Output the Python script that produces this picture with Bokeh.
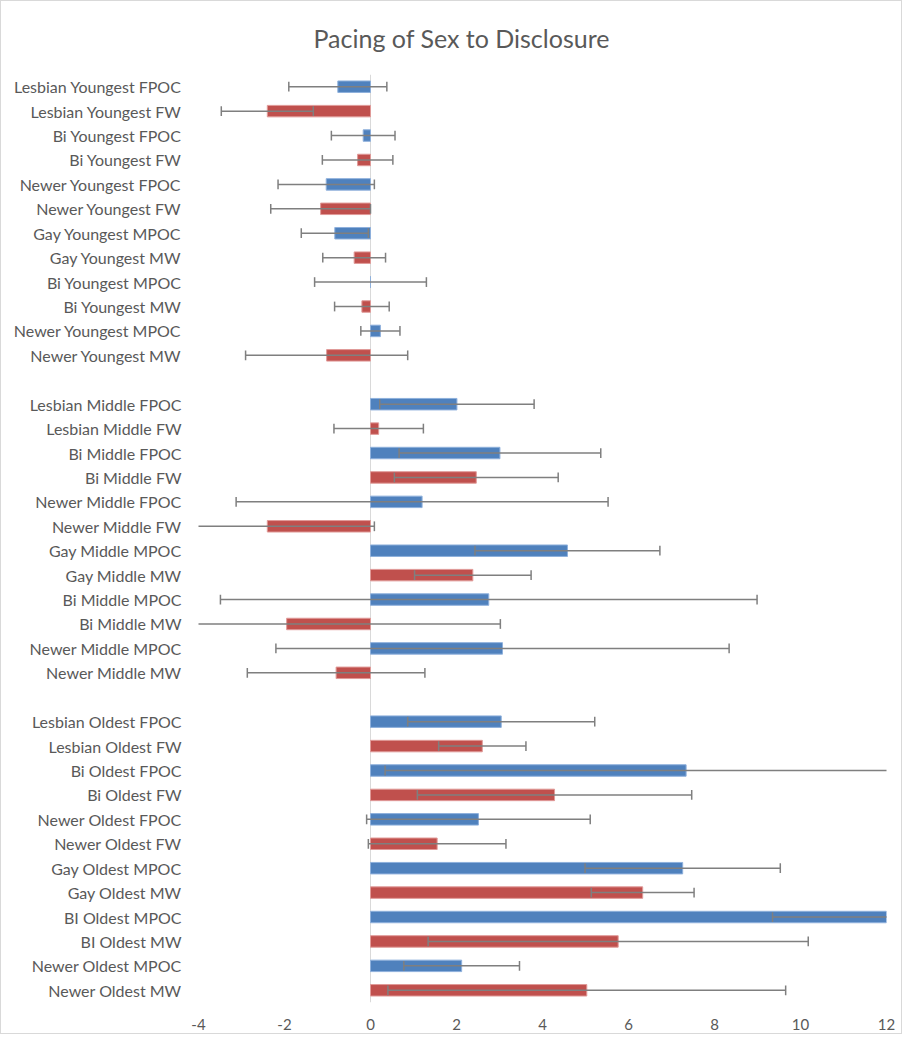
from bokeh.plotting import figure
from bokeh.models import Range1d, FixedTicker, Span, ColumnDataSource
from bokeh.embed import file_html
from bokeh.resources import INLINE

# ---- data ----
youngest_labels = ["Lesbian Youngest FPOC", "Lesbian Youngest FW", "Bi Youngest FPOC", "Bi Youngest FW",
                   "Newer Youngest FPOC", "Newer Youngest FW", "Gay Youngest MPOC", "Gay Youngest MW",
                   "Bi Youngest MPOC", "Bi Youngest MW", "Newer Youngest MPOC", "Newer Youngest MW"]
youngest_values = [-0.76, -2.40, -0.17, -0.30, -1.03, -1.16, -0.83, -0.38, 0.0, -0.20, 0.23, -1.02]
youngest_errors = [1.14, 1.07, 0.74, 0.82, 1.12, 1.16, 0.78, 0.73, 1.30, 0.635, 0.455, 1.885]

middle_labels = ["Lesbian Middle FPOC", "Lesbian Middle FW", "Bi Middle FPOC", "Bi Middle FW",
                 "Newer Middle FPOC", "Newer Middle FW", "Gay Middle MPOC", "Gay Middle MW",
                 "Bi Middle MPOC", "Bi Middle MW", "Newer Middle MPOC", "Newer Middle MW"]
middle_values = [2.01, 0.19, 3.01, 2.46, 1.20, -2.40, 4.58, 2.38, 2.75, -1.95, 3.07, -0.80]
middle_errors = [1.795, 1.04, 2.345, 1.905, 4.325, 2.49, 2.15, 1.355, 6.24, 4.97, 5.27, 2.065]

oldest_labels = ["Lesbian Oldest FPOC", "Lesbian Oldest FW", "Bi Oldest FPOC", "Bi Oldest FW",
                 "Newer Oldest FPOC", "Newer Oldest FW", "Gay Oldest MPOC", "Gay Oldest MW",
                 "BI Oldest MPOC", "BI Oldest MW", "Newer Oldest MPOC", "Newer Oldest MW"]
oldest_values = [3.04, 2.60, 7.34, 4.28, 2.51, 1.55, 7.26, 6.33, 13.0, 5.76, 2.12, 5.03]
oldest_errors = [2.175, 1.015, 7.0, 3.19, 2.6, 1.6, 2.27, 1.195, 3.65, 4.42, 1.345, 4.625]

x_ticks = [-4, -2, 0, 2, 4, 6, 8, 10, 12]
x_tick_labels = ["-4", "-2", "0", "2", "4", "6", "8", "10", "12"]

BLUE = "#4F81BD"
RED = "#C0504D"
TEXT = "#595959"

groups = [(youngest_labels, youngest_values, youngest_errors),
          (middle_labels, middle_values, middle_errors),
          (oldest_labels, oldest_values, oldest_errors)]

labels, values, errors, pos, fill, edge = [], [], [], [], [], []
slot = 0
for gi, (lab, val, err) in enumerate(groups):
    if gi > 0:
        slot += 1  # blank row between groups
    for l, v, e in zip(lab, val, err):
        labels.append(l)
        values.append(v)
        errors.append(e)
        pos.append(slot)
        poc = l.endswith("POC")
        fill.append(BLUE if poc else RED)
        edge.append("#8EB0DC" if poc else "#E09A98")
        slot += 1

lower = [v - e for v, e in zip(values, errors)]
upper = [v + e for v, e in zip(values, errors)]
cap = 0.2

src = ColumnDataSource(dict(y=pos, v=values, lo=lower, hi=upper, fill=fill, edge=edge,
                            y0=[y - cap for y in pos], y1=[y + cap for y in pos]))

p = figure(width=902, height=1034, output_backend="svg", toolbar_location=None,
           x_range=Range1d(-4, 12), y_range=Range1d(slot - 0.5, -0.5),
           min_border_left=197, min_border_right=17, min_border_top=73, min_border_bottom=33)

p.title.text = "Pacing of Sex to Disclosure"
p.title.align = "left"
p.title.vertical_align = "top"
p.title.text_font = "Lato"
p.title.text_font_size = "25px"
p.title.text_font_style = "normal"
p.title.text_color = TEXT
p.title.standoff = 39
p.title.offset = 115

p.outline_line_color = None
p.xgrid.visible = False
p.ygrid.visible = False
p.background_fill_color = "white"
p.border_fill_color = "white"

p.add_layout(Span(location=0, dimension="height", line_color="#D9D9D9", line_width=1, level="underlay"))

p.hbar(y="y", left=0, right="v", height=0.47, fill_color="fill", line_color="edge",
       line_width=1, source=src)

p.segment(x0="lo", y0="y", x1="hi", y1="y", line_color="#7F7F7F", line_width=1.5, source=src)
p.segment(x0="lo", y0="y0", x1="lo", y1="y1", line_color="#7F7F7F", line_width=1.5, source=src)
p.segment(x0="hi", y0="y0", x1="hi", y1="y1", line_color="#7F7F7F", line_width=1.5, source=src)

p.xaxis.ticker = FixedTicker(ticks=x_ticks)
p.xaxis.major_label_overrides = {t: s for t, s in zip(x_ticks, x_tick_labels)}
p.xaxis.axis_line_color = None
p.xaxis.major_tick_line_color = None
p.xaxis.minor_tick_line_color = None
p.xaxis.major_label_text_color = TEXT
p.xaxis.major_label_text_font = "Lato"
p.xaxis.major_label_text_font_size = "15px"
p.xaxis.major_label_standoff = 10

p.yaxis.ticker = FixedTicker(ticks=pos)
p.yaxis.major_label_overrides = {y: l for y, l in zip(pos, labels)}
p.yaxis.axis_line_color = None
p.yaxis.major_tick_line_color = None
p.yaxis.minor_tick_line_color = None
p.yaxis.major_label_text_color = TEXT
p.yaxis.major_label_text_font = "Lato"
p.yaxis.major_label_text_font_size = "16px"
p.yaxis.major_label_standoff = 11

p.styles = {"border": "1px solid #D9D9D9"}

open("out.html", "w").write(file_html(p, INLINE))
